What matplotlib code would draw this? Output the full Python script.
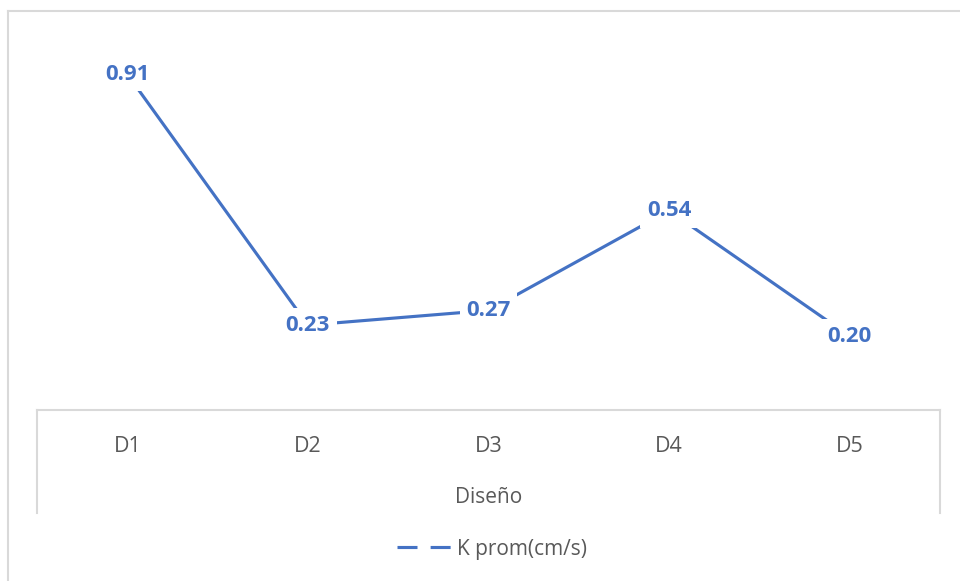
import matplotlib
matplotlib.use("Agg")
import matplotlib.pyplot as plt
from matplotlib.lines import Line2D

categories = ["D1", "D2", "D3", "D4", "D5"]
k_prom = [0.91, 0.23, 0.27, 0.54, 0.20]
series_name = "K prom(cm/s)"
x_title = "Diseño"

LINE = "#4472C4"
GRID = "#D9D9D9"
TXT = "#595959"
FONT = "Open Sans"

W, H = 960, 581
fig = plt.figure(figsize=(W / 100, H / 100), dpi=100)
fig.patch.set_facecolor("white")

def fx(px):
    return px / W

def fy(py):
    return 1 - py / H

ax_left, ax_right, ax_bottom, ax_top = 37, 940, 410, 41
ax = fig.add_axes([fx(ax_left), fy(ax_bottom), fx(ax_right - ax_left), (ax_bottom - ax_top) / H])
ax.set_facecolor("none")

xs = list(range(len(categories)))
ax.plot(xs, k_prom, color=LINE, lw=2.25, solid_capstyle="round", zorder=2)
for x, v in zip(xs, k_prom):
    ax.text(x, v, f"{v:.2f}", ha="center", va="center", color=LINE, fontsize=16,
            fontweight="bold", family=FONT, zorder=3,
            bbox=dict(boxstyle="square,pad=0.3", fc="white", ec="none"))

ax.set_xlim(-0.5, len(categories) - 0.5)
ax.set_ylim(0, 1.0)
ax.set_yticks([])
ax.set_xticks(xs)
ax.set_xticklabels(categories, family=FONT, fontsize=15.5, color=TXT)
ax.tick_params(axis="x", length=0, pad=19)
for s in ["left", "right", "top"]:
    ax.spines[s].set_visible(False)
ax.spines["bottom"].set_color(GRID)
ax.spines["bottom"].set_linewidth(1.5)

ax.set_xlabel(x_title, family=FONT, fontsize=15, color=TXT, labelpad=21)

# category box side lines
for px in (ax_left, ax_right):
    fig.add_artist(Line2D([fx(px), fx(px)], [fy(ax_bottom), fy(513)], color=GRID, lw=1.5))

# outer chart border (top and left)
fig.add_artist(Line2D([fx(8), fx(8)], [fy(11), 0], color=GRID, lw=1.5))
fig.add_artist(Line2D([fx(8), 1], [fy(11), fy(11)], color=GRID, lw=1.5))

handle = Line2D([], [], color=LINE, lw=2.25, linestyle=(0, (6.4, 4.2)))
fig.legend([handle], [series_name], loc="center", bbox_to_anchor=(fx(492), fy(549)),
           frameon=False, handlelength=2.6, handletextpad=0.3,
           prop={"family": FONT, "size": 15}, labelcolor=TXT)

fig.savefig("out.png", dpi=100, facecolor="white")
